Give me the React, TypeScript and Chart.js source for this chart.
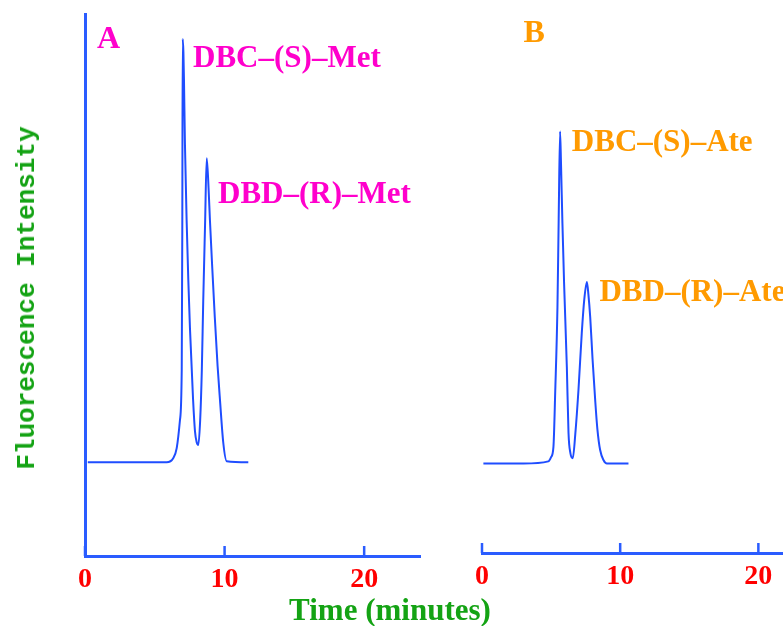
import React, { useEffect, useRef } from "react";
import { Chart, registerables } from "chart.js";
Chart.register(...registerables);

// Panel A: DBC/DBD–Met chromatogram
const timeA = [0.2, 3, 5.85, 6.33, 6.57, 6.8, 6.93, 6.97, 7.0, 7.05, 7.09, 7.16, 7.28, 7.4, 7.52, 7.74, 7.88, 8.0, 8.12, 8.25, 8.37, 8.47, 8.6, 8.72, 8.85, 8.95, 9.1, 9.3, 9.5, 9.67, 9.91, 10.15, 11.7];
const intensityA = [17.3, 17.3, 17.3, 18.1, 19.9, 25, 34.3, 60, 95.4, 93, 88, 76, 62, 51, 42, 29, 23, 21, 20.5, 25, 34.3, 47, 61, 73.4, 68, 62, 54, 44, 35, 28.8, 20.8, 17.5, 17.3];

// Panel B: DBC/DBD–Ate chromatogram
const timeB = [0.1, 3, 4.8, 5.0, 5.17, 5.3, 5.46, 5.55, 5.65, 5.72, 5.82, 5.94, 6.14, 6.26, 6.4, 6.57, 6.75, 6.98, 7.22, 7.4, 7.59, 7.7, 7.83, 8.0, 8.19, 8.35, 8.55, 8.8, 9.04, 10.6];
const intensityB = [16.6, 16.6, 17.0, 17.8, 19.7, 30, 45.6, 62, 78.2, 72, 61.2, 50.1, 34.5, 22.3, 18.5, 17.6, 22, 30.2, 40.8, 47, 50.3, 48, 43.8, 36, 28.4, 23, 19.1, 17.2, 16.6, 16.6];

const tickValues = [0, 10, 20];

// annotation texts: text anchored at (time, intensity)
const panelA = { letter: "A", letterT: 0.86, letterV: 95.2 };
const panelB = { letter: "B", letterT: 3.0, letterV: 96.3 };
const peakLabelsA = [
  { text: "DBC–(S)–Met", t: 7.74, v: 91.7 },
  { text: "DBD–(R)–Met", t: 9.53, v: 66.6 },
];
const peakLabelsB = [
  { text: "DBC–(S)–Ate", t: 6.5, v: 76.1 },
  { text: "DBD–(R)–Ate", t: 8.5, v: 48.3 },
];

const BLUE = "#1f4dff";
const AXIS_BLUE = "#2a5cff";
const RED = "#ff0000";
const GREEN = "#14a314";
const MAGENTA = "#ff00cc";
const ORANGE = "#ff9a00";
const SERIF = "'Liberation Serif', 'Times New Roman', serif";

function makeChart(
  canvas: HTMLCanvasElement,
  times: number[],
  values: number[],
  opts: {
    xMax: number;
    padLeft: number;
    padRight: number;
    axisHeight: number;
    showYAxis: boolean;
    letter: { letter: string; letterT: number; letterV: number };
    letterColor: string;
    labels: { text: string; t: number; v: number }[];
    labelColor: string;
  }
) {
  const annot = {
    id: "annot",
    afterDraw(chart: any) {
      const ctx = chart.ctx;
      const xs = chart.scales.x;
      const ys = chart.scales.y;
      ctx.save();
      // inward tick marks
      ctx.strokeStyle = AXIS_BLUE;
      ctx.lineWidth = 2.5;
      for (const v of tickValues) {
        const px = xs.getPixelForValue(v);
        ctx.beginPath();
        ctx.moveTo(px, chart.chartArea.bottom);
        ctx.lineTo(px, chart.chartArea.bottom - 10);
        ctx.stroke();
      }
      ctx.textAlign = "left";
      ctx.textBaseline = "middle";
      ctx.font = `bold 32px ${SERIF}`;
      ctx.fillStyle = opts.letterColor;
      ctx.fillText(
        opts.letter.letter,
        xs.getPixelForValue(opts.letter.letterT),
        ys.getPixelForValue(opts.letter.letterV)
      );
      ctx.font = `bold 31px ${SERIF}`;
      ctx.fillStyle = opts.labelColor;
      for (const l of opts.labels) {
        ctx.fillText(l.text, xs.getPixelForValue(l.t), ys.getPixelForValue(l.v));
      }
      ctx.restore();
    },
  };

  return new Chart(canvas, {
    type: "line",
    data: {
      datasets: [
        {
          data: times.map((t, i) => ({ x: t, y: values[i] })),
          borderColor: BLUE,
          borderWidth: 2,
          pointRadius: 0,
          cubicInterpolationMode: "monotone",
          fill: false,
        },
      ],
    },
    options: {
      responsive: false,
      animation: false,
      events: [],
      layout: {
        padding: { left: opts.padLeft, right: opts.padRight, top: 14, bottom: 0 },
      },
      plugins: { legend: { display: false }, tooltip: { enabled: false } },
      scales: {
        x: {
          type: "linear",
          min: 0,
          max: opts.xMax,
          afterBuildTicks: (s: any) => {
            s.ticks = tickValues.map((v) => ({ value: v }));
          },
          afterFit: (s: any) => {
            s.height = opts.axisHeight;
          },
          grid: { display: false, drawTicks: false },
          border: { display: true, color: AXIS_BLUE, width: 3 },
          ticks: {
            color: RED,
            font: { family: SERIF, weight: "bold", size: 28 },
            padding: 7,
            maxRotation: 0,
          },
        },
        y: {
          min: 0,
          max: 100,
          afterFit: (s: any) => {
            s.width = 0;
          },
          grid: { display: false, drawTicks: false },
          border: { display: opts.showYAxis, color: AXIS_BLUE, width: 3 },
          ticks: { display: false },
        },
      },
    },
    plugins: [annot],
  } as any);
}

export default function App() {
  const refA = useRef<HTMLCanvasElement>(null);
  const refB = useRef<HTMLCanvasElement>(null);

  useEffect(() => {
    const a = makeChart(refA.current!, timeA, intensityA, {
      xMax: 24,
      padLeft: 85,
      padRight: 20,
      axisHeight: 70,
      showYAxis: true,
      letter: panelA,
      letterColor: MAGENTA,
      labels: peakLabelsA,
      labelColor: MAGENTA,
    });
    const b = makeChart(refB.current!, timeB, intensityB, {
      xMax: 22,
      padLeft: 42,
      padRight: 4,
      axisHeight: 73,
      showYAxis: false,
      letter: panelB,
      letterColor: ORANGE,
      labels: peakLabelsB,
      labelColor: ORANGE,
    });
    return () => {
      a.destroy();
      b.destroy();
    };
  }, []);

  return (
    <div
      style={{
        position: "absolute",
        left: 0,
        top: 0,
        width: 783,
        height: 626,
        overflow: "hidden",
        background: "#fff",
      }}
    >
      <canvas
        ref={refA}
        width={440}
        height={626}
        style={{ position: "absolute", left: 0, top: 0, width: 440, height: 626 }}
      />
      <canvas
        ref={refB}
        width={350}
        height={626}
        style={{ position: "absolute", left: 440, top: 0, width: 350, height: 626 }}
      />
      <div
        style={{
          position: "absolute",
          left: 390,
          top: 595,
          transform: "translateX(-50%)",
          whiteSpace: "nowrap",
          font: `bold 31px/30px ${SERIF}`,
          color: GREEN,
        }}
      >
        Time (minutes)
      </div>
      <div
        style={{
          position: "absolute",
          left: 27,
          top: 298,
          transform: "translate(-50%, -50%) rotate(-90deg)",
          whiteSpace: "nowrap",
          font: `bold 26px/26px 'Liberation Mono', 'Courier New', monospace`,
          color: GREEN,
        }}
      >
        Fluorescence Intensity
      </div>
    </div>
  );
}
